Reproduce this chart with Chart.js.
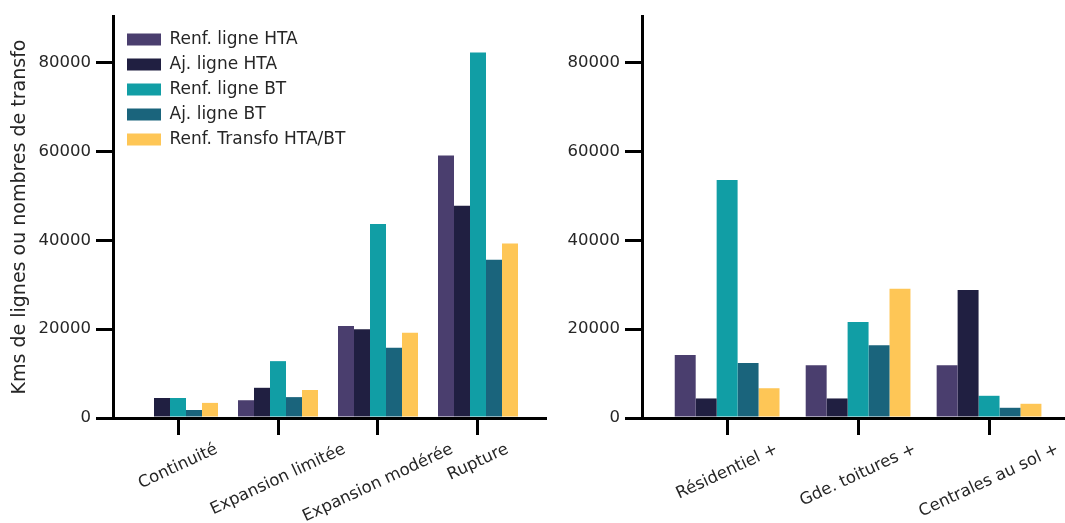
<!DOCTYPE html>
<html>
<head>
<meta charset="utf-8">
<script src="https://cdn.jsdelivr.net/npm/chart.js@4/dist/chart.umd.min.js"></script>
<style>
  body { margin: 0; background: #fff; }
  #wrap { position: relative; width: 1065px; height: 523px; }
  #left { position: absolute; left: 0; top: 0; }
  #right { position: absolute; left: 555px; top: 0; }
</style>
</head>
<body>
<div id="wrap">
  <canvas id="left" width="555" height="523"></canvas>
  <canvas id="right" width="510" height="523"></canvas>
</div>
<script>
// data
const scenarios = ['Continuité', 'Expansion limitée', 'Expansion modérée', 'Rupture']
const producteurs = ['Résidentiel +', 'Gde. toitures +', 'Centrales au sol +']
const seriesNames = ['Renf. ligne HTA', 'Aj. ligne HTA', 'Renf. ligne BT', 'Aj. ligne BT', 'Renf. Transfo HTA/BT']
const seriesColors = ['#4a3e6e', '#201f41', '#119ea5', '#1a647c', '#fec656']
const yTicks = [0, 20000, 40000, 60000, 80000]

// left panel, one array per series (scenario order)
const renfHTA_L = [0, 4000, 20700, 59100]
const ajHTA_L = [4500, 6800, 20000, 47800]
const renfBT_L = [4500, 12800, 43700, 82300]
const ajBT_L = [1800, 4700, 15800, 35600]
const transfo_L = [3400, 6300, 19200, 39300]

// right panel
const renfHTA_R = [14200, 11900, 11900]
const ajHTA_R = [4400, 4400, 28800]
const renfBT_R = [53600, 21600, 5000]
const ajBT_R = [12400, 16400, 2300]
const transfo_R = [6700, 29100, 3200]

const textColor = '#262626'
const fontFamily = '"DejaVu Sans", sans-serif'
const fontSize = 16.5

function makeDatasets(arrays) {
  return arrays.map(function(arr, k) {
    return {
      label: seriesNames[k],
      data: arr.map(function(v, i) { return {x: i, y: v} }),
      backgroundColor: seriesColors[k],
      borderWidth: 0,
      categoryPercentage: 0.8,
      barPercentage: 1.0
    }
  })
}

// rotated, centred category labels (matplotlib style)
const xLabelPlugin = {
  id: 'xLabels',
  afterDraw(chart, args, opts) {
    const ctx = chart.ctx
    const xs = chart.scales.x
    const a = 25 * Math.PI / 180
    ctx.save()
    ctx.font = fontSize + 'px ' + fontFamily
    ctx.fillStyle = textColor
    ctx.textAlign = 'center'
    ctx.textBaseline = 'middle'
    opts.labels.forEach(function(lab, i) {
      const w = ctx.measureText(lab).width
      const h = fontSize
      const H = w * Math.sin(a) + h * Math.cos(a)
      const x = xs.getPixelForValue(i)
      const y = xs.top + 23 + H / 2
      ctx.save()
      ctx.translate(x, y)
      ctx.rotate(-a)
      ctx.fillText(lab, 0, 0)
      ctx.restore()
    })
    ctx.restore()
  }
}

// move the legend box a little inside the axes
const legendShift = {
  id: 'legendShift',
  afterLayout(chart) {
    if (chart.legend && chart.options.plugins.legend.display) {
      chart.legend.left += 6
      chart.legend.top += 23
    }
  }
}

function makeOptions(cats, xMax, yWidth, showLegend, showTitle, rightPad) {
  return {
    responsive: false,
    animation: false,
    layout: { padding: { left: 0, top: 16, right: rightPad, bottom: 0 } },
    scales: {
      x: {
        type: 'linear',
        min: -0.65,
        max: xMax,
        offset: false,
        afterBuildTicks: function(scale) {
          scale.ticks = cats.map(function(c, i) { return {value: i} })
        },
        afterFit: function(scale) { scale.height = 105 },
        ticks: { display: false, includeBounds: false, stepSize: 1 },
        grid: { offset: false, drawOnChartArea: false, drawTicks: true, tickLength: 17, lineWidth: 3, color: '#000' },
        border: { display: true, width: 3, color: '#000' }
      },
      y: {
        min: 0,
        max: 90500,
        afterBuildTicks: function(scale) {
          scale.ticks = yTicks.map(function(v) { return {value: v} })
        },
        afterFit: function(scale) { scale.width = yWidth },
        ticks: {
          color: textColor,
          padding: 5,
          font: { family: fontFamily, size: fontSize },
          callback: function(v) { return String(v) }
        },
        grid: { drawOnChartArea: false, drawTicks: true, tickLength: 17, lineWidth: 3, color: '#000' },
        border: { display: true, width: 3, color: '#000' },
        title: {
          display: showTitle,
          text: 'Kms de lignes ou nombres de transfo',
          color: textColor,
          padding: 9,
          font: { family: fontFamily, size: 19 }
        }
      }
    },
    plugins: {
      legend: {
        display: showLegend,
        position: 'chartArea',
        align: 'start',
        labels: {
          boxWidth: 34,
          boxHeight: 12,
          padding: 8,
          color: textColor,
          font: { family: fontFamily, size: 17 }
        }
      },
      tooltip: { enabled: false },
      xLabels: { labels: cats }
    }
  }
}

new Chart(document.getElementById('left'), {
  type: 'bar',
  data: { datasets: makeDatasets([renfHTA_L, ajHTA_L, renfBT_L, ajBT_L, transfo_L]) },
  options: makeOptions(scenarios, 3.67, 113, true, true, 10),
  plugins: [xLabelPlugin, legendShift]
})

new Chart(document.getElementById('right'), {
  type: 'bar',
  data: { datasets: makeDatasets([renfHTA_R, ajHTA_R, renfBT_R, ajBT_R, transfo_R]) },
  options: makeOptions(producteurs, 2.58, 87, false, false, 0),
  plugins: [xLabelPlugin, legendShift]
})
</script>
</body>
</html>
